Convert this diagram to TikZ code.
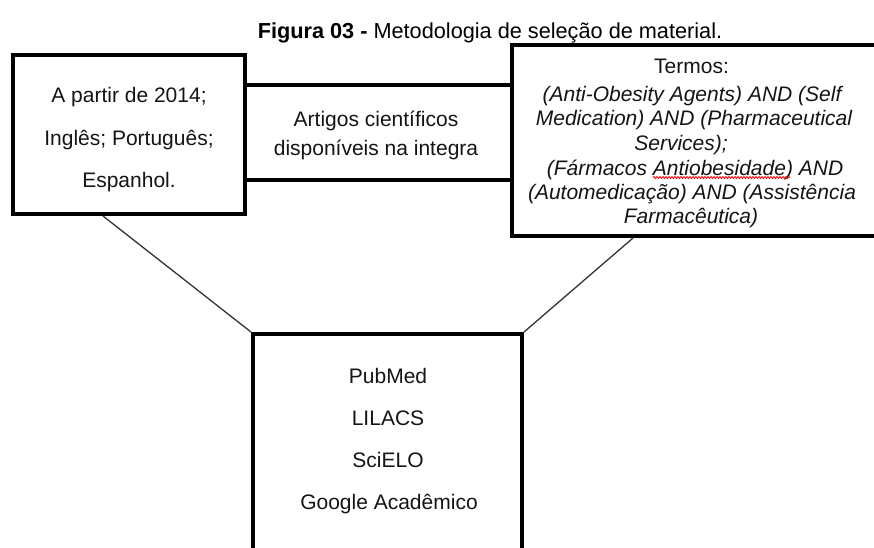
\documentclass[tikz,border=0pt]{standalone}
\usepackage{fontspec}
\setmainfont{Liberation Sans}
\usetikzlibrary{decorations.pathmorphing}
\begin{document}
\begin{tikzpicture}[x=1pt,y=-1pt,
  box/.style={draw=black, line width=4pt, rectangle, inner sep=0pt},
  link/.style={draw=black!80, line width=1.3pt},
  bar/.style={draw=black, line width=4pt},
  txt/.style={anchor=base, inner sep=0pt, font=\fontsize{21}{25}\selectfont, text=black!92},
  itxt/.style={txt, font=\fontsize{21}{25}\selectfont\itshape}]
\useasboundingbox (0,0) rectangle (874,547);
\begin{scope}
\clip (0,0) rectangle (874,547);
% title
\node[txt, text=black, font=\fontsize{21.7}{25}\selectfont] (title) at (490,38) {\textbf{Figura 03 -} Metodologia de seleção de material.};
% boxes
\node[box, minimum width=232pt, minimum height=159.5pt] (left) at (129,134.25) {};
\node[box, minimum width=388pt, minimum height=191pt] (right) at (706,140.5) {};
\node[box, minimum width=269pt, minimum height=266pt] (bottom) at (387.5,467) {};
% middle bars
\draw[bar] (left.east |- 0,85) -- (right.west |- 0,85);
\draw[bar] (left.east |- 0,180) -- (right.west |- 0,180);
% links
\draw[link] (left.south -| 103,0) -- (bottom.north west);
\draw[link] (right.south -| 633,0) -- (bottom.north east);
% left text
\node[txt] (l1) at (129,102) {A partir de 2014;};
\node[txt] (l2) at (129,145) {Inglês; Português;};
\node[txt] (l3) at (129,187) {Espanhol.};
% middle text
\node[txt] (m1) at (376,126.5) {Artigos científicos};
\node[txt] (m2) at (376,155) {disponíveis na integra};
% right text
\node[txt] (r0) at (691.5,73) {Termos:};
\node[itxt] (r1) at (692,101) {(Anti-Obesity Agents) AND (Self};
\node[itxt] (r2) at (694,125.5) {Medication) AND (Pharmaceutical};
\node[itxt] (r3) at (681,150) {Services);};
\node[itxt] (r4) at (695,175) {(Fármacos Antiobesidade) AND};
\node[itxt] (r5) at (692,199) {(Automedicação) AND (Assistência};
\node[itxt] (r6) at (691,223.5) {Farmacêutica)};
\draw[red, line width=0.8pt, decorate, decoration={snake, amplitude=1pt, segment length=3pt}] (653,177.5) -- (790,177.5);
% bottom text
\node[txt] (b1) at (388,383) {PubMed};
\node[txt] (b2) at (388,425) {LILACS};
\node[txt] (b3) at (388,467) {SciELO};
\node[txt] (b4) at (389,509) {Google Acadêmico};
\end{scope}
\end{tikzpicture}
\end{document}
